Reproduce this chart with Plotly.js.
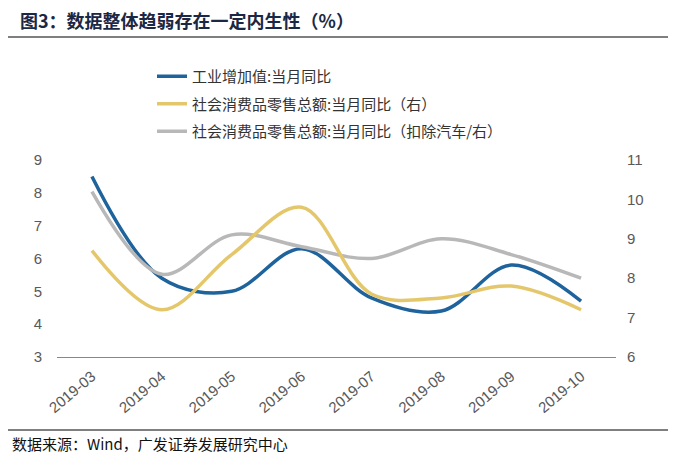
<!DOCTYPE html>
<html>
<head>
<meta charset="utf-8">
<script src="https://cdn.plot.ly/plotly-3.0.1.min.js"></script>
<style>html,body{margin:0;padding:0;background:#fff;}#chart{width:680px;height:468px;}</style>
</head>
<body>
<div id="chart"></div>
<script>
var months = ['2019-03','2019-04','2019-05','2019-06','2019-07','2019-08','2019-09','2019-10'];
var industrial = [8.5, 5.4, 5.0, 6.3, 4.8, 4.4, 5.8, 4.7];
var retail = [8.7, 7.2, 8.6, 9.8, 7.6, 7.5, 7.8, 7.2];
var retailExAuto = [10.2, 8.1, 9.1, 8.8, 8.5, 9.0, 8.6, 8.0];
var seriesNames = ['工业增加值:当月同比', '社会消费品零售总额:当月同比（右）', '社会消费品零售总额:当月同比（扣除汽车/右）'];
var leftTicks = [3, 4, 5, 6, 7, 8, 9];
var rightTicks = [6, 7, 8, 9, 10, 11];

var PL = 57, PR = 616, PT = 160, PB = 357;
function px2x(p){ return (p - PL) / (PR - PL); }
function px2y(p){ return (PB - p) / (PB - PT); }

var cjk = '"Noto Sans CJK SC", "Noto Sans", sans-serif';
var num = 'Arial, "Liberation Sans", sans-serif';
var traces = [
  {x: months, y: retailExAuto, name: seriesNames[2], type: 'scatter', mode: 'lines', yaxis: 'y2',
   line: {color: '#B8B8B8', width: 3.5, shape: 'spline', smoothing: 1}, legendgroup: 'c', legendrank: 3},
  {x: months, y: retail, name: seriesNames[1], type: 'scatter', mode: 'lines', yaxis: 'y2',
   line: {color: '#E5C76B', width: 3.5, shape: 'spline', smoothing: 1}, legendgroup: 'b', legendrank: 2},
  {x: months, y: industrial, name: seriesNames[0], type: 'scatter', mode: 'lines', yaxis: 'y',
   line: {color: '#1F639D', width: 3.5, shape: 'spline', smoothing: 1}, legendgroup: 'a', legendrank: 1}
];

var layout = {
  width: 680, height: 468,
  margin: {l: PL, r: 680 - PR, t: PT, b: 468 - PB, pad: 0},
  paper_bgcolor: '#fff', plot_bgcolor: '#fff',
  font: {family: cjk, color: '#595959'},
  title: {text: '<b>图3：数据整体趋弱存在一定内生性（%）</b>', x: 20/680, xanchor: 'left', xref: 'container',
          y: 1 - 22/468, yanchor: 'middle', yref: 'container',
          font: {family: cjk, size: 18, color: '#1B2845'}},
  showlegend: true,
  legend: {x: px2x(152), y: px2y(60), xanchor: 'left', yanchor: 'top', orientation: 'v',
           traceorder: 'grouped', tracegroupgap: 5, bgcolor: 'rgba(0,0,0,0)',
           font: {family: cjk, size: 15, color: '#333'}},
  xaxis: {type: 'category', categoryorder: 'array', categoryarray: months,
          range: [-0.5, 7.5], showgrid: false, zeroline: false, showline: true, linecolor: '#888', linewidth: 1,
          ticks: '', tickangle: -40, ticklabelstandoff: 4, tickfont: {family: num, size: 15, color: '#595959'}},
  yaxis: {range: [3, 9], tickvals: leftTicks, ticktext: leftTicks.map(String), showgrid: false, zeroline: false,
          showline: false, ticks: '', ticklabelstandoff: 14,
          tickfont: {family: num, size: 15, color: '#595959'}},
  yaxis2: {range: [6, 11], tickvals: rightTicks, ticktext: rightTicks.map(String), overlaying: 'y', side: 'right',
           showgrid: false, zeroline: false, showline: false, ticks: '', ticklabelstandoff: 10,
           tickfont: {family: num, size: 15, color: '#595959'}},
  shapes: [
    {type: 'line', xref: 'paper', yref: 'paper', x0: px2x(8), x1: px2x(668), y0: px2y(37), y1: px2y(37),
     line: {color: '#000', width: 1}},
    {type: 'line', xref: 'paper', yref: 'paper', x0: px2x(8), x1: px2x(668), y0: px2y(430), y1: px2y(430),
     line: {color: '#000', width: 1}}
  ],
  annotations: [
    {text: '数据来源：Wind，广发证券发展研究中心', xref: 'paper', yref: 'paper', x: px2x(10), y: px2y(443),
     xanchor: 'left', yanchor: 'middle', showarrow: false, font: {family: cjk, size: 15, color: '#111'}}
  ]
};

Plotly.newPlot('chart', traces, layout, {displayModeBar: false, staticPlot: true});
</script>
</body>
</html>
